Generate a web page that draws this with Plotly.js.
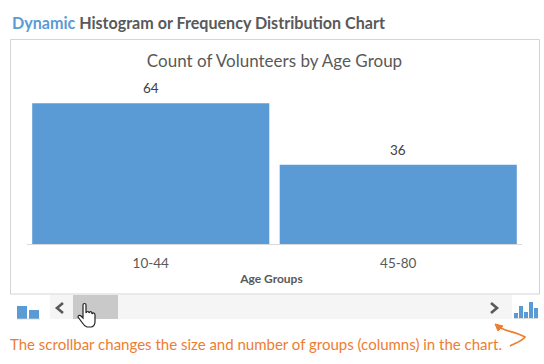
<!DOCTYPE html>
<html>
<head>
<meta charset="utf-8">
<script src="https://cdn.plot.ly/plotly-3.0.1.min.js"></script>
<style>html,body{margin:0;padding:0;background:#fff;overflow:hidden}#c{width:544px;height:364px}</style>
</head>
<body>
<div id="c"></div>
<script>
const categories = ["10-44", "45-80"];
const counts = [64, 36];
const barLabels = ["64", "36"];
const chartTitle = "Count of Volunteers by Age Group";
const xTitle = "Age Groups";
const noteText = "The scrollbar changes the size and number of groups (columns) in the chart.";

const W = 544, H = 364;
const L = 27, R = 522, T = 68, B = 244;
const px = x => (x - L) / (R - L);
const py = y => (B - y) / (B - T);
const rect = (x0, y0, x1, y1, fill, line) => ({
  type: "rect", xref: "paper", yref: "paper", layer: "below",
  x0: px(x0), x1: px(x1), y0: py(y1), y1: py(y0),
  fillcolor: fill, line: line ? {color: line, width: 1} : {width: 0}
});
const path = (pts, opts) => {
  const d = pts.map(p => typeof p === "string" ? p : px(p[0]) + "," + py(p[1])).join(" ");
  return Object.assign({type: "path", xref: "paper", yref: "paper", path: d, layer: "above"}, opts);
};
const text = (x, y, t, size, color, anchor, bold, family) => ({
  xref: "paper", yref: "paper", x: px(x), y: py(y), text: bold ? "<b>" + t + "</b>" : t,
  showarrow: false, xanchor: anchor, yanchor: "middle",
  font: {family: family || "Lato, Carlito, sans-serif", size: size, color: color}
});
const blue = "#5b9bd5", line = "#d9d9d9", arrowGrey = "#595959", orange = "#ed7d31";

const iconL = [[17, 306, 27, 319], [29, 310, 39, 319]];
const iconR = [[514, 313, 518, 318], [519, 306, 523, 318], [524, 312, 528, 318], [529, 302, 533, 318], [534, 308, 538, 318]];

const shapes = [
  rect(10.5, 39.5, 539.5, 294, "#ffffff", "#d4d4d4"),
  rect(50, 295, 512, 319, "#f5f5f5"),
  rect(73, 295, 118, 319, "#c9c9c9"),
  ...iconL.map(r => rect(r[0], r[1], r[2], r[3], blue)),
  rect(17, 318.6, 40, 319.4, "#d0d0d0"),
  ...iconR.map(r => rect(r[0], r[1], r[2], r[3], blue)),
  rect(514, 318.2, 538, 319, "#d0d0d0"),
  path(["M", [63, 303], "L", [57, 308], "L", [63, 313]], {line: {color: arrowGrey, width: 2.6}, fillcolor: "rgba(0,0,0,0)"}),
  path(["M", [491, 303], "L", [497, 308], "L", [491, 313]], {line: {color: arrowGrey, width: 2.6}, fillcolor: "rgba(0,0,0,0)"}),
  path(["M", [83, 305], "C", [83, 303], [86, 303], [86, 305], "L", [86, 313], "C", [87, 311], [89, 311], [89, 313],
        "C", [90, 311], [92, 311], [92, 314], "C", [93, 312], [95, 313], [95, 315], "L", [95, 322],
        "C", [95, 325], [93, 327], [91, 327], "L", [87, 327], "C", [84, 326], [83, 324], [81, 321],
        "L", [78, 317], "C", [78, 315], [80, 315], [81, 316], "L", [83, 318], "Z"],
       {line: {color: "#222222", width: 1.2}, fillcolor: "#ffffff"}),
  path(["M", [497, 325], "C", [503, 332], [512, 330], [525, 337], "C", [522, 341], [516, 343], [510, 346]],
       {line: {color: orange, width: 1.6}, fillcolor: "rgba(0,0,0,0)"}),
  path(["M", [495, 324], "L", [503, 326], "L", [498, 331], "Z"], {line: {color: orange, width: 1}, fillcolor: orange})
];

const annotations = [
  text(10, 22.5, '<span style="color:#5b9bd5">Dynamic</span> Histogram or Frequency Distribution Chart', 16.1, "#595959", "left", true),
  text(8, 344, noteText, 15, orange, "left", false),
  ...categories.map((c, i) => ({
    xref: "x", yref: "y", x: c, y: counts[i], text: barLabels[i],
    showarrow: false, xanchor: "center", yanchor: "bottom", yshift: 5,
    font: {family: "Lato, Carlito, sans-serif", size: 13.5, color: "#404040"}
  }))
];

Plotly.newPlot("c", [{
  type: "bar",
  x: categories,
  y: counts,
  marker: {color: blue},
  hoverinfo: "x+y"
}], {
  width: W, height: H,
  margin: {l: L, r: W - R, t: T, b: H - B},
  paper_bgcolor: "#ffffff",
  plot_bgcolor: "rgba(0,0,0,0)",
  showlegend: false,
  bargap: 0.042,
  title: {
    text: chartTitle, x: 274.5 / W, xanchor: "center", y: 1 - 61 / H, yanchor: "middle",
    font: {family: "Lato, Carlito, sans-serif", size: 17, color: "#595959"}
  },
  xaxis: {
    type: "category", showgrid: false, showline: true, linecolor: "#d9d9d9", linewidth: 1,
    ticks: "", ticklabelstandoff: 7,
    tickfont: {family: "Lato, Carlito, sans-serif", size: 13.5, color: "#595959"},
    title: {text: "<b>" + xTitle + "</b>&nbsp;&nbsp;", standoff: 4,
      font: {family: "Lato, Carlito, sans-serif", size: 12, color: "#595959"}},
    automargin: false
  },
  yaxis: {range: [0, 80], visible: false, fixedrange: true},
  shapes: shapes,
  annotations: annotations
}, {displayModeBar: false, staticPlot: true});
</script>
</body>
</html>
